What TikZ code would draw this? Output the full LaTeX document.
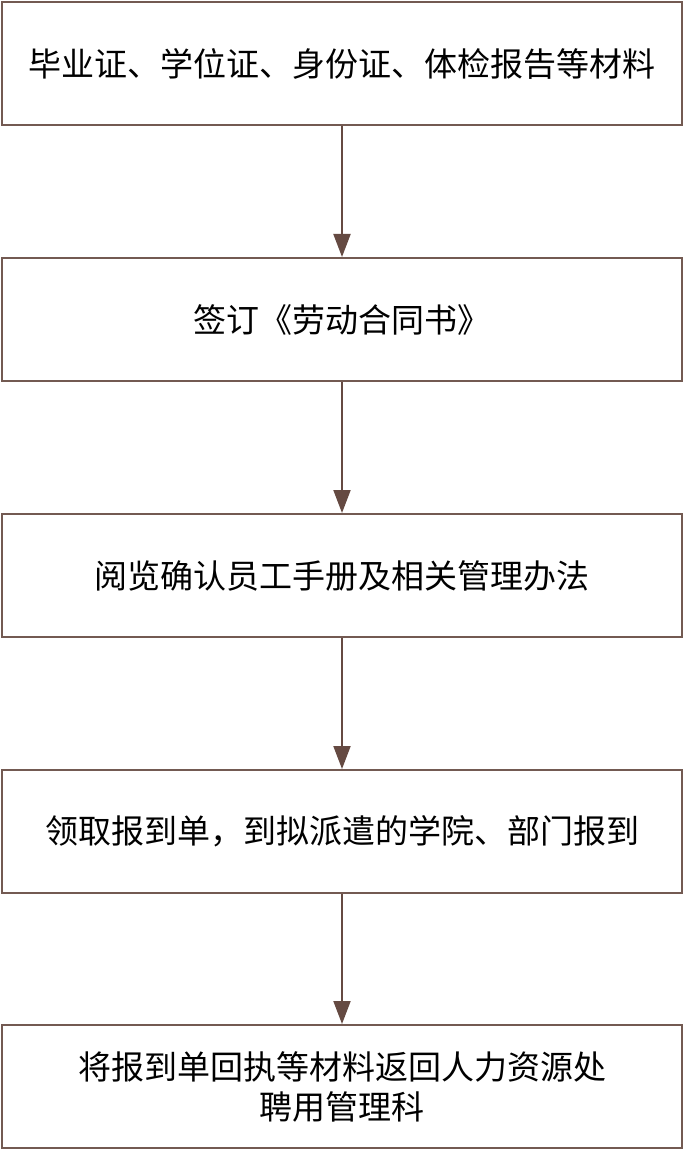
\documentclass[tikz,border=0pt]{standalone}
\usepackage{fontspec}
\setmainfont{Noto Sans CJK SC}
\usetikzlibrary{arrows.meta}
\definecolor{boxbrown}{HTML}{735A52}
\definecolor{arrowbrown}{HTML}{654A42}
\begin{document}
\begin{tikzpicture}[x=1pt,y=1pt,
    stage/.style={draw=boxbrown,line width=2pt,minimum width=680pt,minimum height=123pt,
      align=center,font=\fontsize{33pt}{40pt}\selectfont},
    flow/.style={draw=arrowbrown,line width=2pt,-{Triangle[length=23pt,width=17pt]}}]
  \useasboundingbox (0,0) rectangle (684,-1150);
  {
    \node (papers)   at (342,-63.5)   [stage] {毕业证、学位证、身份证、体检报告等材料};
    \node (contract) at (342,-319.5)  [stage] {签订《劳动合同书》};
    \node (handbook) at (342,-575.5)  [stage] {阅览确认员工手册及相关管理办法};
    \node (report)   at (342,-831.5)  [stage] {领取报到单，到拟派遣的学院、部门报到};
    \node (receipt)  at (342,-1086.5) [stage] {将报到单回执等材料返回人力资源处\\聘用管理科};

    \draw [flow] (papers) -- (contract);
    \draw [flow] (contract) -- (handbook);
    \draw [flow] (handbook) -- (report);
    \draw [flow] (report) -- (receipt);
  }
\end{tikzpicture}
\end{document}
